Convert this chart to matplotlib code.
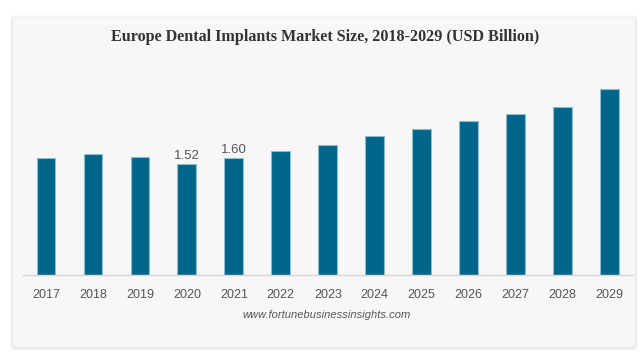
import matplotlib.pyplot as plt
from matplotlib.patches import FancyBboxPatch

# data
years = ['2017', '2018', '2019', '2020', '2021', '2022', '2023',
         '2024', '2025', '2026', '2027', '2028', '2029']
values = [1.60, 1.65, 1.62, 1.52, 1.60, 1.69, 1.78,
          1.90, 2.00, 2.10, 2.20, 2.30, 2.55]
labelled = {'2020': '1.52', '2021': '1.60'}

W, H = 643, 357
fig = plt.figure(figsize=(W / 100, H / 100), dpi=100)
fig.patch.set_facecolor('white')

# card with soft shadow
for i, a in enumerate([0.02, 0.03, 0.04]):
    off = 3 - i
    sh = FancyBboxPatch(((13 - off) / W, (H - 347 - off - 1) / H),
                        (622 + 2 * off) / W, (330 + 2 * off) / H,
                        boxstyle='round,pad=0,rounding_size=0.008',
                        transform=fig.transFigure, facecolor='black',
                        edgecolor='none', alpha=a, zorder=0)
    fig.patches.append(sh)
card = FancyBboxPatch((13 / W, (H - 347) / H), 622 / W, 330 / H,
                      boxstyle='round,pad=0,rounding_size=0.008',
                      transform=fig.transFigure, facecolor='#f7f7f7',
                      edgecolor='none', zorder=1)
fig.patches.append(card)

# axes placement in pixels
left, right, bottom, top = 22.5, 633, 275, 60
ax = fig.add_axes([left / W, (H - bottom) / H, (right - left) / W, (bottom - top) / H])
ax.set_facecolor('none')
ax.set_zorder(2)

x = range(len(years))
ax.bar(x, values, width=0.4, color='#006689', edgecolor='#8fbccc', linewidth=0.8)
for i, (y, v) in enumerate(zip(years, values)):
    if y in labelled:
        ax.text(i, v + 0.03, labelled[y], ha='center', va='bottom',
                fontsize=9.5, color='#555555', family='Liberation Sans')

ax.set_xlim(-0.5, len(years) - 0.5)
ax.set_ylim(0, (bottom - top) / 73.1)
ax.set_xticks(list(x))
ax.set_xticklabels(years, fontsize=9, color='#555555', family='Liberation Sans')
ax.set_yticks([])
ax.tick_params(axis='x', length=0, pad=10)
for s in ['left', 'right', 'top']:
    ax.spines[s].set_visible(False)
ax.spines['bottom'].set_color('#d8d8d8')
ax.spines['bottom'].set_linewidth(1)

fig.text(325 / W, 1 - 37 / H, 'Europe Dental Implants Market Size, 2018-2029 (USD Billion)',
         ha='center', va='center', fontsize=11.6, fontweight='bold',
         color='#333333', family='Liberation Serif', zorder=3)
fig.text(327 / W, 1 - 315 / H, 'www.fortunebusinessinsights.com',
         ha='center', va='center', fontsize=8, style='italic',
         color='#555555', family='Liberation Sans', zorder=3)

fig.savefig('out.png', dpi=100, facecolor='white')
